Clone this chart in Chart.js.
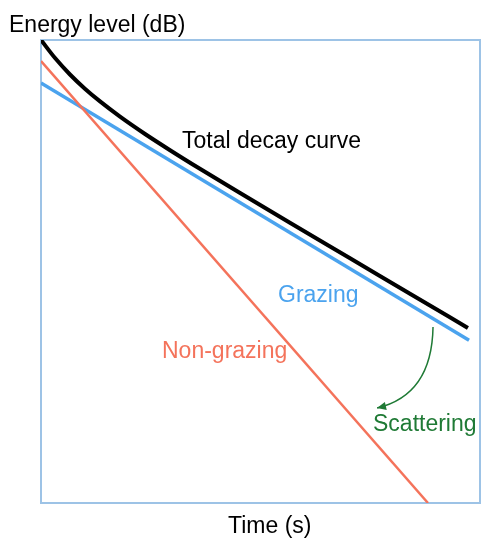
<!DOCTYPE html>
<html>
<head>
<meta charset="utf-8">
<script src="https://cdn.jsdelivr.net/npm/chart.js@4"></script>
<style>
html,body{margin:0;padding:0;background:#fff;}
#wrap{width:488px;height:550px;}
</style>
</head>
<body>
<div id="wrap"><canvas id="c" width="488" height="550"></canvas></div>
<script>
// Time (s) and energy (dB)
const totalTime = [0, 0.064, 0.132, 0.200, 0.269, 0.360, 0.474, 0.588, 0.724, 0.907, 1.134, 1.408, 1.681, 1.945];
const totalLevel = [0, -2.34, -4.47, -6.31, -7.96, -9.93, -12.18, -14.28, -16.69, -19.83, -23.69, -28.29, -32.88, -37.31];
const grazingTime = [0, 1.95];
const grazingLevel = [-5.57, -38.9];
const nonGrazingTime = [0, 1.763];
const nonGrazingLevel = [-2.72, -60];
// scattering arrow: start, control, end (data units)
const arrowTime = [1.786, 1.781, 1.531];
const arrowLevel = [-37.2, -46.0, -47.7];
const labels = ["Total decay curve", "Grazing", "Non-grazing", "Scattering"];

const FONT = '23px "Liberation Sans", Arial, sans-serif';
const toPts = (xs, ys) => xs.map((x, i) => ({x, y: ys[i]}));

const decor = {
  id: 'decor',
  beforeDatasetsDraw(chart) {
    const {ctx, chartArea: a} = chart;
    ctx.save();
    ctx.strokeStyle = '#9dc3e6';
    ctx.lineWidth = 2;
    ctx.strokeRect(a.left, a.top, a.right - a.left, a.bottom - a.top);
    ctx.restore();
  },
  afterDatasetsDraw(chart) {
    const {ctx, scales: {x, y}} = chart;
    ctx.save();
    ctx.font = FONT;
    ctx.textBaseline = 'alphabetic';
    ctx.textAlign = 'left';
    ctx.fillStyle = '#000';
    ctx.fillText('Energy level (dB)', 9, 32);
    ctx.fillText('Time (s)', 228, 533);
    ctx.fillText(labels[0], 182, 148);
    ctx.fillStyle = '#4ba3ee';
    ctx.fillText(labels[1], 278, 302);
    ctx.fillStyle = '#f4735b';
    ctx.fillText(labels[2], 162, 358);
    ctx.fillStyle = '#1f7a35';
    ctx.fillText(labels[3], 373, 431);
    // arrow
    const p0 = {x: x.getPixelForValue(arrowTime[0]), y: y.getPixelForValue(arrowLevel[0])};
    const p1 = {x: x.getPixelForValue(arrowTime[1]), y: y.getPixelForValue(arrowLevel[1])};
    const p2 = {x: x.getPixelForValue(arrowTime[2]), y: y.getPixelForValue(arrowLevel[2])};
    ctx.strokeStyle = '#1f7a35';
    ctx.fillStyle = '#1f7a35';
    ctx.lineWidth = 1.5;
    ctx.beginPath();
    ctx.moveTo(p0.x, p0.y);
    ctx.quadraticCurveTo(p1.x, p1.y, p2.x, p2.y);
    ctx.stroke();
    const ang = Math.atan2(p2.y - p1.y, p2.x - p1.x);
    const L = 9, W = 4;
    ctx.beginPath();
    ctx.moveTo(p2.x, p2.y);
    ctx.lineTo(p2.x - L*Math.cos(ang) + W*Math.sin(ang), p2.y - L*Math.sin(ang) - W*Math.cos(ang));
    ctx.lineTo(p2.x - L*Math.cos(ang) - W*Math.sin(ang), p2.y - L*Math.sin(ang) + W*Math.cos(ang));
    ctx.closePath();
    ctx.fill();
    ctx.restore();
  }
};

new Chart(document.getElementById('c'), {
  type: 'line',
  data: {
    datasets: [
      {label: 'Non-grazing', data: toPts(nonGrazingTime, nonGrazingLevel), borderColor: '#f4735b', borderWidth: 2.5, pointRadius: 0},
      {label: 'Grazing', data: toPts(grazingTime, grazingLevel), borderColor: '#4ba3ee', borderWidth: 3.5, pointRadius: 0},
      {label: 'Total decay curve', data: toPts(totalTime, totalLevel), borderColor: '#000', borderWidth: 4, pointRadius: 0, cubicInterpolationMode: 'monotone'}
    ]
  },
  options: {
    responsive: false,
    animation: false,
    layout: {padding: {left: 41, right: 8, top: 40, bottom: 47}},
    plugins: {legend: {display: false}, tooltip: {enabled: false}},
    scales: {
      x: {type: 'linear', min: 0, max: 2, display: false},
      y: {type: 'linear', min: -60, max: 0, display: false}
    }
  },
  plugins: [decor]
});
</script>
</body>
</html>
